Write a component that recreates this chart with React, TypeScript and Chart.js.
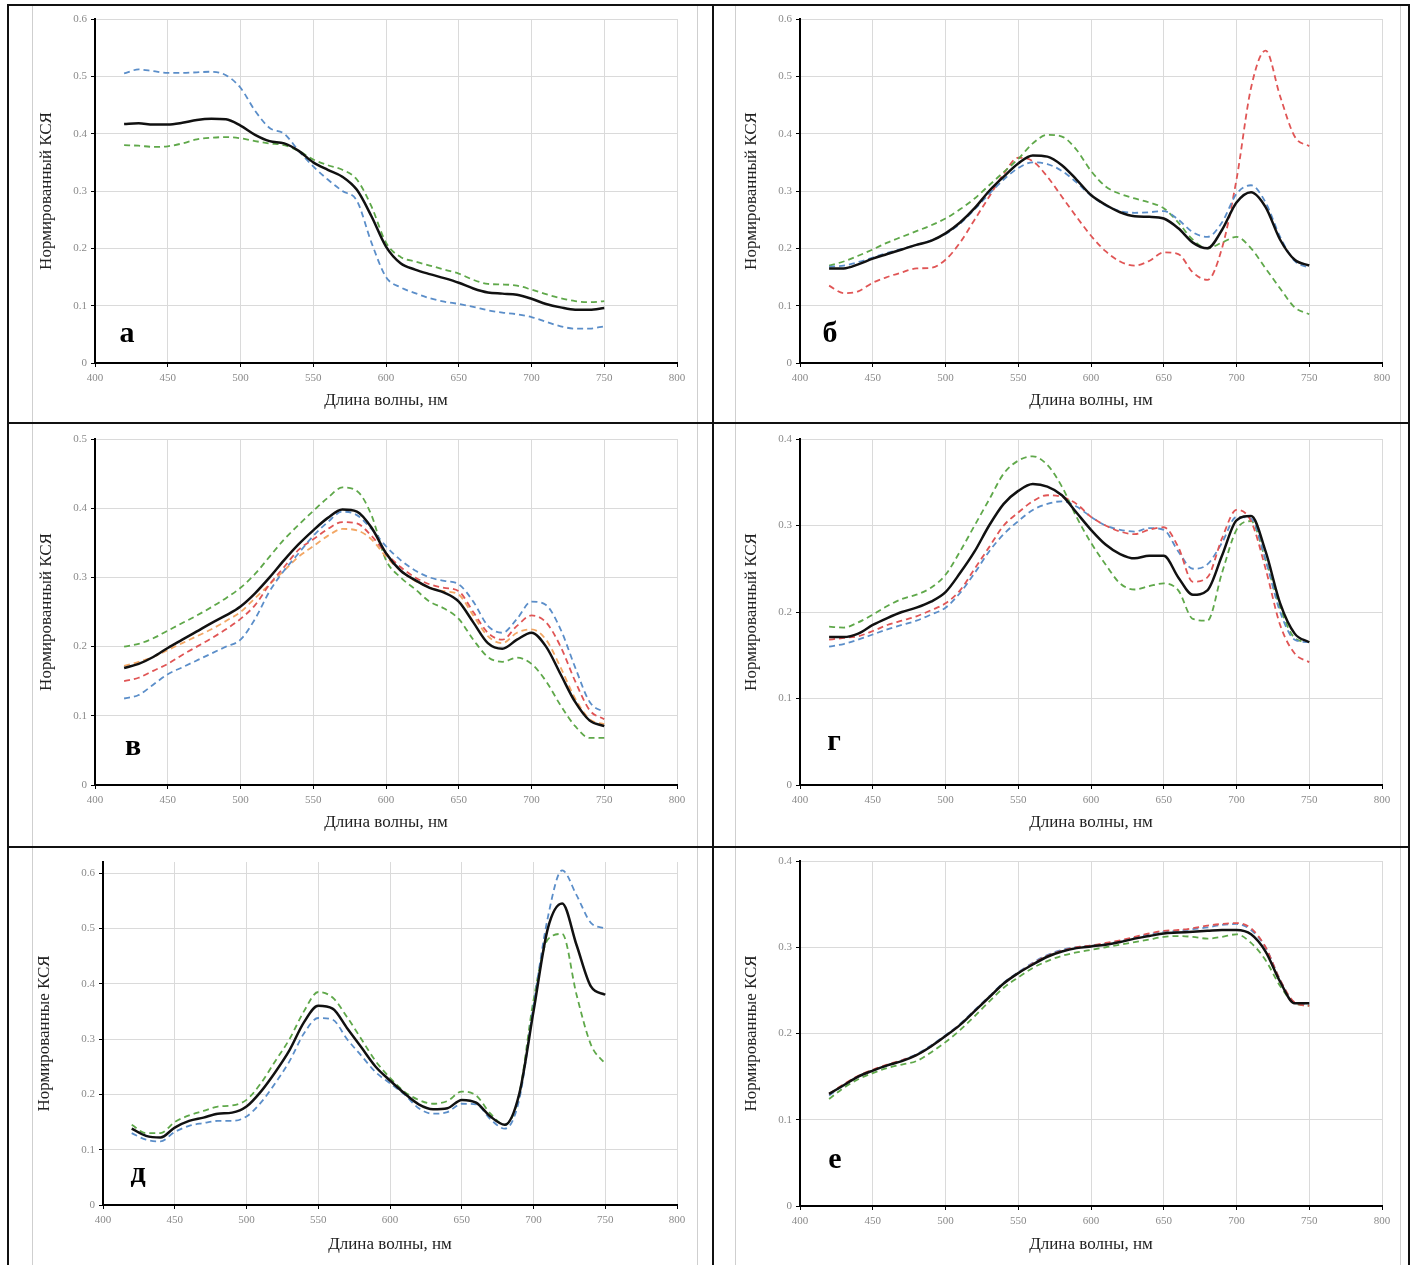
import React, { useEffect, useRef } from "react";
import { Chart, registerables } from "chart.js";
Chart.register(...registerables);

// ---------- DATA ----------
const WAVELENGTHS = [420, 430, 440, 450, 460, 470, 480, 490, 500, 510, 520, 530, 540, 550, 560, 570, 580, 590, 600, 610, 620, 630, 640, 650, 660, 670, 680, 690, 700, 710, 720, 730, 740, 750];

const A_BLACK = [0.417, 0.418, 0.416, 0.416, 0.419, 0.424, 0.426, 0.425, 0.414, 0.398, 0.387, 0.383, 0.37, 0.35, 0.337, 0.325, 0.302, 0.256, 0.203, 0.174, 0.163, 0.155, 0.148, 0.14, 0.13, 0.123, 0.121, 0.119, 0.112, 0.103, 0.097, 0.093, 0.093, 0.096];
const A_BLUE = [0.505, 0.512, 0.509, 0.506, 0.506, 0.507, 0.508, 0.502, 0.48, 0.44, 0.41, 0.4, 0.37, 0.343, 0.32, 0.3, 0.283, 0.21, 0.15, 0.132, 0.122, 0.113, 0.107, 0.103, 0.098, 0.092, 0.088, 0.085, 0.08, 0.072, 0.064, 0.06, 0.06, 0.064];
const A_GREEN = [0.38, 0.379, 0.377, 0.378, 0.383, 0.39, 0.393, 0.394, 0.392, 0.387, 0.383, 0.38, 0.37, 0.355, 0.345, 0.337, 0.32, 0.273, 0.21, 0.185, 0.177, 0.17, 0.163, 0.156, 0.145, 0.138, 0.137, 0.135, 0.128, 0.12, 0.113, 0.108, 0.106, 0.108];

const B_BLACK = [0.165, 0.165, 0.172, 0.182, 0.19, 0.198, 0.206, 0.213, 0.226, 0.245, 0.27, 0.3, 0.325, 0.348, 0.362, 0.36, 0.345, 0.32, 0.293, 0.276, 0.263, 0.256, 0.255, 0.252, 0.235, 0.21, 0.2, 0.232, 0.28, 0.298, 0.272, 0.215, 0.18, 0.17];
const B_BLUE = [0.168, 0.17, 0.176, 0.184, 0.192, 0.199, 0.206, 0.214, 0.225, 0.243, 0.268, 0.295, 0.32, 0.34, 0.35, 0.347, 0.335, 0.315, 0.292, 0.275, 0.265, 0.262, 0.263, 0.265, 0.25, 0.228, 0.22, 0.245, 0.295, 0.31, 0.28, 0.22, 0.178, 0.166];
const B_GREEN = [0.17, 0.177, 0.187, 0.198, 0.21, 0.22, 0.23, 0.24, 0.252, 0.268, 0.287, 0.31, 0.333, 0.356, 0.383, 0.398, 0.395, 0.372, 0.335, 0.308, 0.295, 0.287, 0.28, 0.27, 0.245, 0.215, 0.2, 0.21, 0.22, 0.2, 0.165, 0.13, 0.097, 0.085];
const B_RED = [0.135, 0.122, 0.125, 0.14, 0.15, 0.158, 0.165, 0.166, 0.18, 0.21, 0.25, 0.29, 0.33, 0.358, 0.352, 0.325, 0.29, 0.255, 0.222, 0.195, 0.177, 0.17, 0.178, 0.193, 0.19, 0.158, 0.145, 0.2, 0.32, 0.48, 0.545, 0.465, 0.395, 0.378];

const V_BLACK = [0.169, 0.175, 0.185, 0.198, 0.21, 0.222, 0.234, 0.245, 0.258, 0.277, 0.3, 0.325, 0.348, 0.368, 0.386, 0.398, 0.395, 0.372, 0.335, 0.31, 0.296, 0.285, 0.278, 0.265, 0.235, 0.205, 0.197, 0.21, 0.22, 0.2, 0.16, 0.12, 0.093, 0.085];
const V_GREEN = [0.2, 0.204, 0.212, 0.223, 0.234, 0.245, 0.257, 0.27, 0.285, 0.305, 0.33, 0.355, 0.376, 0.396, 0.415, 0.43, 0.425, 0.39, 0.325, 0.3, 0.283, 0.265, 0.255, 0.24, 0.21, 0.185, 0.178, 0.184, 0.175, 0.15, 0.115, 0.085, 0.068, 0.068];
const V_BLUE = [0.125, 0.13, 0.145, 0.16, 0.17, 0.18, 0.19, 0.2, 0.21, 0.24, 0.28, 0.31, 0.335, 0.36, 0.38, 0.395, 0.39, 0.37, 0.345, 0.325, 0.31, 0.3, 0.295, 0.29, 0.265, 0.23, 0.22, 0.24, 0.265, 0.26, 0.225, 0.17, 0.12, 0.105];
const V_RED = [0.15, 0.155, 0.165, 0.175, 0.188, 0.2, 0.212, 0.225, 0.24, 0.26, 0.29, 0.315, 0.34, 0.355, 0.37, 0.38, 0.378, 0.36, 0.335, 0.315, 0.3, 0.29, 0.285, 0.28, 0.25, 0.22, 0.21, 0.23, 0.245, 0.235, 0.2, 0.15, 0.108, 0.095];
const V_ORANGE = [0.172, 0.178, 0.185, 0.195, 0.205, 0.215, 0.225, 0.237, 0.25, 0.27, 0.29, 0.31, 0.33, 0.345, 0.36, 0.37, 0.368, 0.355, 0.33, 0.31, 0.295, 0.285, 0.28, 0.275, 0.245, 0.215, 0.205, 0.22, 0.225, 0.21, 0.17, 0.125, 0.095, 0.088];

const G_BLACK = [0.171, 0.171, 0.175, 0.185, 0.193, 0.2, 0.205, 0.212, 0.223, 0.245, 0.27, 0.3, 0.325, 0.34, 0.348, 0.345, 0.335, 0.315, 0.295, 0.278, 0.267, 0.262, 0.265, 0.265, 0.24, 0.22, 0.225, 0.265, 0.306, 0.311, 0.27, 0.21, 0.175, 0.165];
const G_GREEN = [0.183, 0.182, 0.188, 0.197, 0.207, 0.215, 0.22, 0.228, 0.243, 0.27, 0.3, 0.33, 0.36, 0.375, 0.38, 0.37, 0.345, 0.31, 0.28, 0.255, 0.233, 0.226, 0.23, 0.233, 0.225, 0.192, 0.19, 0.245, 0.295, 0.305, 0.26, 0.205, 0.17, 0.165];
const G_RED = [0.168, 0.17, 0.172, 0.178, 0.185, 0.19, 0.195, 0.202, 0.21, 0.225, 0.25, 0.275, 0.3, 0.315, 0.328, 0.335, 0.333, 0.325, 0.31, 0.3, 0.293, 0.29, 0.295, 0.298, 0.275, 0.235, 0.24, 0.285, 0.318, 0.305, 0.25, 0.185, 0.152, 0.142];
const G_BLUE = [0.16, 0.163, 0.168, 0.174, 0.18, 0.185, 0.19, 0.197, 0.205, 0.222, 0.245, 0.27, 0.29, 0.305, 0.318, 0.325, 0.328, 0.322, 0.31, 0.3, 0.295, 0.293, 0.297, 0.295, 0.27, 0.25, 0.255, 0.28, 0.31, 0.308, 0.26, 0.2, 0.168, 0.165];

const D_BLACK = [0.138, 0.125, 0.122, 0.14, 0.152, 0.158, 0.165, 0.167, 0.178, 0.205, 0.24, 0.28, 0.33, 0.36, 0.355, 0.32, 0.285, 0.25, 0.225, 0.202, 0.182, 0.173, 0.175, 0.19, 0.185, 0.16, 0.145, 0.2, 0.35, 0.5, 0.545, 0.47, 0.395, 0.38];
const D_BLUE = [0.13, 0.118, 0.115, 0.132, 0.143, 0.148, 0.152, 0.152, 0.16, 0.185, 0.22, 0.26, 0.31, 0.338, 0.335, 0.3, 0.27, 0.24, 0.22, 0.2, 0.175, 0.165, 0.168, 0.183, 0.182, 0.155, 0.138, 0.19, 0.36, 0.52, 0.605, 0.56, 0.51, 0.5];
const D_GREEN = [0.145, 0.13, 0.13, 0.15, 0.162, 0.17, 0.178, 0.18, 0.19, 0.22, 0.26, 0.3, 0.35, 0.385, 0.375, 0.34, 0.3, 0.26, 0.23, 0.205, 0.19, 0.183, 0.188, 0.205, 0.198, 0.165, 0.145, 0.2, 0.37, 0.48, 0.49, 0.38, 0.29, 0.255];

const E_BLACK = [0.13, 0.14, 0.15, 0.157, 0.163, 0.168, 0.175, 0.185, 0.197, 0.21, 0.226, 0.242, 0.258, 0.27, 0.28, 0.289, 0.295, 0.299, 0.301, 0.303, 0.306, 0.31, 0.313, 0.316, 0.317, 0.318, 0.319, 0.32, 0.32, 0.315, 0.295, 0.26, 0.235, 0.235];
const E_BLUE = [0.128, 0.14, 0.15, 0.157, 0.163, 0.169, 0.176, 0.186, 0.198, 0.211, 0.227, 0.243, 0.259, 0.271, 0.282, 0.291, 0.297, 0.3, 0.302, 0.304, 0.307, 0.311, 0.315, 0.318, 0.319, 0.321, 0.323, 0.326, 0.327, 0.32, 0.3, 0.262, 0.236, 0.234];
const E_RED = [0.13, 0.141, 0.151, 0.158, 0.164, 0.169, 0.175, 0.185, 0.197, 0.21, 0.226, 0.242, 0.258, 0.27, 0.281, 0.29, 0.296, 0.3, 0.302, 0.305, 0.308, 0.312, 0.316, 0.319, 0.32, 0.322, 0.325, 0.327, 0.328, 0.322, 0.3, 0.262, 0.236, 0.232];
const E_GREEN = [0.124, 0.137, 0.147, 0.154, 0.16, 0.164, 0.168, 0.178, 0.19, 0.204, 0.22, 0.237, 0.253, 0.265, 0.276, 0.284, 0.29, 0.294, 0.297, 0.3, 0.303, 0.306, 0.309, 0.312, 0.313, 0.312, 0.31, 0.312, 0.315, 0.305, 0.285, 0.255, 0.235, 0.232];

const Y_TITLE_1 = "Нормированный КСЯ";
const Y_TITLE_2 = "Нормированные КСЯ";
const X_TITLE = "Длина волны, нм";
const LETTERS = ["а", "б", "в", "г", "д", "е"];
const X_MIN = 400;
const X_MAX = 800;
const X_STEP = 50;
const Y_STEP = 0.1;
const Y_MAXES = [0.6, 0.6, 0.5, 0.4, 0.62, 0.4];

// ---------- STYLES ----------
const COLORS: Record<string, string> = {
  black: "#111111",
  blue: "#5b8ec9",
  green: "#5fa84a",
  red: "#e05555",
  orange: "#f2a765",
};
const FONT = '"Liberation Serif", "Times New Roman", serif';

type S = { data: number[]; color: string };
const SERIES: S[][] = [
  [{ data: A_BLACK, color: "black" }, { data: A_BLUE, color: "blue" }, { data: A_GREEN, color: "green" }],
  [{ data: B_BLACK, color: "black" }, { data: B_BLUE, color: "blue" }, { data: B_GREEN, color: "green" }, { data: B_RED, color: "red" }],
  [{ data: V_BLACK, color: "black" }, { data: V_BLUE, color: "blue" }, { data: V_RED, color: "red" }, { data: V_ORANGE, color: "orange" }, { data: V_GREEN, color: "green" }],
  [{ data: G_BLACK, color: "black" }, { data: G_RED, color: "red" }, { data: G_BLUE, color: "blue" }, { data: G_GREEN, color: "green" }],
  [{ data: D_BLACK, color: "black" }, { data: D_BLUE, color: "blue" }, { data: D_GREEN, color: "green" }],
  [{ data: E_BLACK, color: "black" }, { data: E_RED, color: "red" }, { data: E_BLUE, color: "blue" }, { data: E_GREEN, color: "green" }],
];

// layout (page pixels)
type L = { cx: number; cy: number; cw: number; ch: number; pl: number; pr: number; pt: number; pb: number; titleX: number; titleY: number; lx: number; ly: number };
const LAYOUT: L[] = [
  { cx: 10, cy: 7, cw: 700, ch: 414, pl: 95, pr: 677, pt: 19, pb: 363, titleX: 47, titleY: 401, lx: 127, ly: 342 },
  { cx: 715, cy: 7, cw: 690, ch: 414, pl: 800, pr: 1382, pt: 19, pb: 363, titleX: 752, titleY: 401, lx: 830, ly: 342 },
  { cx: 10, cy: 425, cw: 700, ch: 419, pl: 95, pr: 677, pt: 439, pb: 785, titleX: 47, titleY: 823, lx: 133, ly: 755 },
  { cx: 715, cy: 425, cw: 690, ch: 419, pl: 800, pr: 1382, pt: 439, pb: 785, titleX: 752, titleY: 823, lx: 834, ly: 750 },
  { cx: 10, cy: 849, cw: 700, ch: 416, pl: 103, pr: 677, pt: 862, pb: 1205, titleX: 45, titleY: 1245, lx: 138, ly: 1182 },
  { cx: 715, cy: 849, cw: 690, ch: 416, pl: 800, pr: 1382, pt: 861, pb: 1206, titleX: 752, titleY: 1245, lx: 835, ly: 1168 },
];

function Panel({ idx }: { idx: number }) {
  const ref = useRef<HTMLCanvasElement | null>(null);
  const L = LAYOUT[idx];
  useEffect(() => {
    if (!ref.current) return;
    const TITLE_SIZE = 17;
    const half = (TITLE_SIZE * 1.2) / 2;
    const datasets = SERIES[idx].map((s) => ({
      data: WAVELENGTHS.map((x, i) => ({ x, y: s.data[i] })),
      borderColor: COLORS[s.color],
      borderWidth: s.color === "black" ? 2.5 : 1.8,
      borderDash: s.color === "black" ? [] : [6, 4],
      pointRadius: 0,
      fill: false,
      cubicInterpolationMode: "monotone" as const,
    }));
    const letterPlugin = {
      id: "letter",
      afterDraw(chart: any) {
        const ctx = chart.ctx;
        ctx.save();
        ctx.font = `bold 30px ${FONT}`;
        ctx.fillStyle = "#000";
        ctx.textAlign = "center";
        ctx.textBaseline = "alphabetic";
        ctx.fillText(LETTERS[idx], L.lx - L.cx, L.ly - L.cy);
        ctx.restore();
      },
    };
    const chart = new Chart(ref.current, {
      type: "line",
      data: { datasets },
      plugins: [letterPlugin],
      options: {
        responsive: false,
        animation: false,
        devicePixelRatio: 1,
        layout: { padding: { left: 0, top: L.pt - L.cy, right: L.cx + L.cw - L.pr, bottom: 0 } },
        plugins: { legend: { display: false }, tooltip: { enabled: false } },
        scales: {
          x: {
            type: "linear",
            min: X_MIN,
            max: X_MAX,
            ticks: { stepSize: X_STEP, color: "#8a8a8a", font: { family: FONT, size: 11 }, padding: 5, maxRotation: 0 },
            grid: { color: "#dadada", lineWidth: 1, tickColor: "#000", tickLength: 4 },
            border: { color: "#000", width: 2 },
            title: {
              display: true,
              text: X_TITLE,
              color: "#222",
              font: { family: FONT, size: TITLE_SIZE },
              padding: { top: 0, bottom: L.cy + L.ch - L.titleY - half },
            },
            afterFit: (scale: any) => {
              scale.height = L.cy + L.ch - L.pb;
            },
          },
          y: {
            type: "linear",
            min: 0,
            max: Y_MAXES[idx],
            ticks: {
              stepSize: Y_STEP,
              includeBounds: false,
              color: "#8a8a8a",
              font: { family: FONT, size: 11 },
              padding: 4,
              callback: (v: any) => (Number(v) === 0 ? "0" : Number(v).toFixed(1)),
            },
            grid: { color: "#dadada", lineWidth: 1, tickColor: "#000", tickLength: 4 },
            border: { color: "#000", width: 2 },
            title: {
              display: true,
              text: idx >= 4 ? Y_TITLE_2 : Y_TITLE_1,
              color: "#222",
              font: { family: FONT, size: TITLE_SIZE },
              padding: { top: L.titleX - L.cx - half, bottom: 0 },
            },
            afterFit: (scale: any) => {
              scale.width = L.pl - L.cx;
            },
          },
        },
      } as any,
    });
    return () => chart.destroy();
  }, [idx]);
  return (
    <canvas
      ref={ref}
      width={L.cw}
      height={L.ch}
      style={{ position: "absolute", left: L.cx, top: L.cy, width: L.cw, height: L.ch }}
    />
  );
}

const line = (left: number, top: number, width: number, height: number, color: string) => (
  <div style={{ position: "absolute", left, top, width, height, background: color }} />
);

export default function App() {
  return (
    <div style={{ position: "absolute", left: 0, top: 0, width: 1413, height: 1265, background: "#fff", overflow: "hidden" }}>
      {/* light grey chart frames */}
      {line(32, 6, 1, 1259, "#cfcfcf")}
      {line(697, 6, 1, 1259, "#cfcfcf")}
      {line(735, 6, 1, 1259, "#cfcfcf")}
      {line(1400, 6, 1, 1259, "#cfcfcf")}
      {[0, 1, 2, 3, 4, 5].map((i) => (
        <Panel key={i} idx={i} />
      ))}
      {/* black panel borders */}
      {line(7, 4, 1403, 2, "#111")}
      {line(7, 4, 2, 1261, "#111")}
      {line(1408, 4, 2, 1261, "#111")}
      {line(712, 4, 2, 1261, "#111")}
      {line(7, 422, 1403, 2, "#111")}
      {line(7, 846, 1403, 2, "#111")}
    </div>
  );
}
